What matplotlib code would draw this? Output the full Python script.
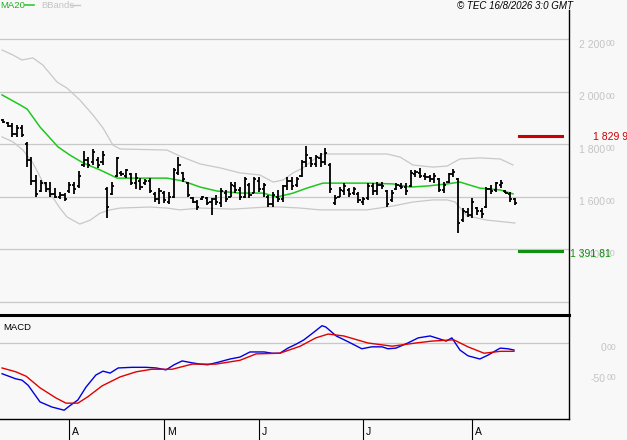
import matplotlib
matplotlib.use("Agg")
import matplotlib.pyplot as plt
from matplotlib.transforms import blended_transform_factory, offset_copy
from matplotlib.lines import Line2D

plt.rcParams['font.family'] = ['Liberation Sans', 'DejaVu Sans']

# ---------------- data ----------------
highs = [1895,1884,1880,1872,1872,1808,1750,1682,1663,1655,
         1655,1632,1617,1613,1655,1655,1697,1773,1750,1781,
         1750,1773,1636,1655,1750,1697,1705,1690,1690,1670,
         1667,1670,1617,1632,1621,1617,1709,1750,1693,1655,
         1598,1587,1602,1598,1594,1606,1632,1625,1655,1655,
         1636,1674,1651,1674,1674,1651,1606,1617,1625,1644,
         1674,1674,1674,1739,1792,1750,1758,1766,1785,1728,
         1606,1636,1651,1632,1636,1617,1598,1651,1651,1655,
         1655,1625,1625,1651,1651,1651,1701,1701,1709,1690,
         1682,1690,1670,1655,1690,1705,1670,1556,1556,1594,
         1560,1556,1636,1644,1655,1663,1625,1617,1594]
lows = [1880,1865,1827,1827,1827,1712,1644,1598,1617,1617,
        1598,1594,1590,1583,1613,1609,1632,1712,1709,1720,
        1709,1720,1518,1606,1674,1678,1670,1644,1629,1625,
        1644,1613,1579,1571,1575,1571,1594,1682,1655,1598,
        1575,1549,1587,1568,1530,1568,1560,1579,1598,1613,
        1587,1594,1594,1613,1617,1598,1560,1560,1579,1579,
        1625,1625,1636,1674,1712,1712,1712,1712,1720,1613,
        1568,1598,1606,1598,1606,1575,1568,1587,1606,1606,
        1629,1560,1579,1625,1629,1606,1636,1674,1670,1663,
        1655,1651,1617,1613,1651,1674,1461,1503,1522,1518,
        1530,1518,1556,1610,1617,1632,1613,1579,1568]
opens = [1890,1880,1870,1840,1860,1800,1740,1660,1620,1650,
         1630,1610,1600,1605,1620,1645,1640,1720,1740,1730,
         1740,1730,1630,1610,1680,1690,1680,1685,1650,1660,
         1650,1660,1610,1590,1615,1580,1600,1690,1690,1650,
         1595,1580,1590,1595,1580,1590,1575,1615,1600,1640,
         1625,1600,1645,1615,1660,1630,1600,1570,1600,1590,
         1640,1660,1645,1680,1730,1745,1725,1745,1730,1720,
         1575,1600,1620,1625,1615,1610,1580,1595,1640,1620,
         1645,1620,1585,1630,1640,1635,1640,1685,1690,1680,
         1675,1665,1665,1625,1655,1685,1665,1510,1540,1530,
         1555,1545,1560,1630,1625,1645,1620,1610,1590]
closes = [1885,1870,1840,1860,1835,1740,1660,1610,1650,1630,
          1610,1600,1605,1590,1645,1630,1680,1740,1720,1770,
          1720,1760,1560,1640,1745,1685,1700,1650,1670,1635,
          1660,1620,1590,1620,1585,1600,1700,1720,1665,1605,
          1580,1560,1598,1575,1590,1580,1620,1590,1645,1625,
          1600,1665,1605,1665,1630,1645,1570,1605,1590,1640,
          1660,1640,1665,1730,1760,1725,1750,1730,1765,1630,
          1595,1625,1640,1610,1630,1585,1590,1640,1620,1645,
          1640,1570,1615,1645,1635,1620,1690,1695,1680,1675,
          1665,1680,1625,1645,1685,1695,1500,1545,1530,1580,
          1545,1535,1630,1620,1650,1650,1615,1590,1575]

ma_x = [-0.2,3.6,5.1,7.8,11.6,14.1,16.9,20.5,24.1,27.4,34.6,38.0,41.6,45.1,50.0,
        54.9,57.8,61.2,64.1,67.5,76.8,82.3,85.9,89.5,93.7,96.4,100.6,104.9,107.6]
ma_v = [1987,1949,1933,1865,1789,1758,1728,1701,1670,1670,1670,1659,1636,1621,1613,
        1613,1598,1613,1632,1651,1651,1648,1636,1640,1648,1655,1632,1625,1610]

bb_up_x = [-0.2,2.1,4.0,6.3,8.4,11.4,13.5,16.2,19.0,21.1,23.2,24.7,34.6,37.3,41.6,
           45.8,50.0,54.2,57.0,59.1,61.2,63.3,65.4,67.5,81.0,83.8,86.5,90.7,93.7,
           96.4,100.6,104.9,107.6]
bb_up_v = [2158,2139,2120,2128,2101,2036,2013,1968,1910,1861,1796,1781,1777,1754,1724,
           1709,1690,1682,1655,1663,1690,1709,1739,1762,1762,1750,1720,1712,1716,
           1743,1747,1743,1720]

bb_lo_x = [-0.2,2.1,4.2,6.3,8.4,9.9,12.0,13.5,16.2,18.4,20.5,22.6,24.7,31.0,34.6,
           37.3,41.6,48.5,55.7,58.4,62.7,66.9,76.8,82.3,86.5,90.7,93.7,95.4,97.9,
           102.1,108.0]
bb_lo_v = [1827,1808,1777,1728,1655,1613,1556,1522,1495,1510,1537,1549,1556,1560,1556,
           1549,1556,1552,1560,1560,1556,1549,1549,1564,1579,1587,1587,1579,1526,
           1510,1499]

macd_x = [-0.2,2.7,4.0,5.3,7.8,10.3,12.9,14.1,15.8,17.5,19.6,21.1,22.6,24.3,27.2,
          30.2,32.3,34.4,36.1,37.8,39.9,41.6,43.2,45.4,47.9,50.0,52.1,55.1,56.8,58.4,
          60.1,61.8,63.5,65.6,67.3,68.1,70.3,72.8,75.7,77.8,80.0,81.2,82.9,85.4,87.6,
          90.1,91.4,93.5,94.7,96.4,98.1,100.6,102.3,104.9,106.5,107.8]
macd_v = [-48,-56,-58,-66,-92,-100,-105,-98,-89,-69,-50,-44,-47,-39,-38,
          -38,-39,-42,-34,-28,-31,-33,-34,-30,-25,-22,-14,-14,-16,-16,
          -8,-2,5,17,27,25,11,2,-9,-6,-6,-9,-8,0,8,
          11,8,3,8,-11,-20,-25,-19,-8,-9,-11]
sig_x = [-0.2,2.7,4.9,7.8,11.2,13.3,15.8,17.9,20.9,24.7,28.1,31.4,35.7,39.9,44.9,
         50.0,53.4,58.4,62.7,66.0,68.6,71.9,77.0,82.1,87.1,90.5,95.1,98.1,101.5,104.9,107.8]
sig_v = [-39,-45,-52,-70,-86,-94,-94,-84,-67,-53,-45,-41,-41,-33,-33,
         -27,-17,-16,-5,8,14,11,0,-5,0,3,5,-6,-16,-13,-13]

price_ticks = [1200, 1400, 1600, 1800, 2000, 2200]
price_labels = ["2 200", "2 000", "1 800", "1 600", "1 400"]
price_label_vals = [2200, 2000, 1800, 1600, 1400]
macd_label_vals = [0, -50]
macd_labels = ["0", "-50"]
month_idx = [14, 34, 54, 76, 99]
month_labels = ["A", "M", "J", "J", "A"]
resistance = 1829.9
support = 1391.81
resistance_label = "1 829 93"
support_label = "1 391 81"

# ---------------- figure ----------------
W, H = 627, 440
BG = '#F8F8F8'
GRID = '#C8C8C8'
fig = plt.figure(figsize=(W / 100, H / 100), dpi=100, facecolor=BG)

def fx(px):
    return px / W

def fy(py):
    return 1 - py / H

ax1 = fig.add_axes([0, fy(315), fx(569), (315 - 10) / H], facecolor=BG)
ax2 = fig.add_axes([0, fy(419), fx(569), (419 - 315) / H], facecolor=BG)

xlim = (-0.633, 119.41)
for ax in (ax1, ax2):
    ax.set_xlim(*xlim)
    ax.tick_params(left=False, right=False, labelleft=False, labelright=False,
                   labelbottom=False)
    ax.spines['left'].set_visible(False)

ax1.set_ylim(1148.6, 2310.5)
ax2.set_ylim(-118.75, 43.75)

# price panel spines
ax1.spines['top'].set_visible(False)
ax1.spines['bottom'].set_visible(False)
ax1.spines['right'].set_linewidth(1.0)
ax1.tick_params(bottom=False)
ax1.set_yticks(price_ticks)
ax1.grid(axis='y', color=GRID, lw=0.9)
ax1.set_axisbelow(True)

# macd panel spines
ax2.spines['top'].set_linewidth(2.2)
ax2.spines['right'].set_linewidth(1.0)
ax2.spines['bottom'].set_linewidth(1.0)
ax2.set_yticks([0])
ax2.grid(axis='y', color=GRID, lw=0.9)
ax2.set_axisbelow(True)
ax2.set_xticks(month_idx)
ax2.tick_params(axis='x', direction='out', length=15, width=0.8, color='black')

# Bollinger bands and MA
ax1.plot(bb_up_x, bb_up_v, color='#C8C8C8', lw=0.9)
ax1.plot(bb_lo_x, bb_lo_v, color='#C8C8C8', lw=0.9)
ax1.plot(ma_x, ma_v, color='#1EC81E', lw=1.1)

# OHLC bars
xs = list(range(len(highs)))
ax1.vlines(xs, lows, highs, color='black', lw=1.3)
ax1.hlines(opens, [x - 0.45 for x in xs], xs, color='black', lw=1.3)
ax1.hlines(closes, xs, [x + 0.45 for x in xs], color='black', lw=1.3)

# support / resistance
ax1.axhline(resistance, xmin=519 / 569, xmax=562 / 569, color='#CC0000', lw=2.2)
ax1.axhline(support, xmin=519 / 569, xmax=562 / 569, color='#109010', lw=2.2)

# price labels
tr1 = offset_copy(blended_transform_factory(fig.transFigure, ax1.transData),
                  fig=fig, x=0, y=-5.5, units='dots')
tr1s = offset_copy(blended_transform_factory(fig.transFigure, ax1.transData),
                   fig=fig, x=0, y=-4.5, units='dots')
for v, s in zip(price_label_vals, price_labels):
    fig.text(fx(605), v, s, transform=tr1, ha='right', va='center',
             fontsize=7.5, color='#C4C4C4')
    fig.text(fx(606), v, "00", transform=tr1s, ha='left', va='center',
             fontsize=6.2, color='#C4C4C4')

tr_lab = offset_copy(blended_transform_factory(fig.transFigure, ax1.transData),
                     fig=fig, x=0, y=-1, units='dots')
fig.text(fx(593), resistance, resistance_label, transform=tr_lab, ha='left',
         va='center', fontsize=7.5, color='#CC0000')
tr_lab2 = offset_copy(blended_transform_factory(fig.transFigure, ax1.transData),
                      fig=fig, x=0, y=-3, units='dots')
fig.text(fx(570), support, support_label, transform=tr_lab2, ha='left',
         va='center', fontsize=7.5, color='#109010')

# MACD lines
ax2.plot(macd_x, macd_v, color='#0000E0', lw=1.0)
ax2.plot(sig_x, sig_v, color='#E00000', lw=1.0)

tr2 = offset_copy(blended_transform_factory(fig.transFigure, ax2.transData),
                  fig=fig, x=0, y=-5, units='dots')
tr2s = offset_copy(blended_transform_factory(fig.transFigure, ax2.transData),
                   fig=fig, x=0, y=-4, units='dots')
for v, s in zip(macd_label_vals, macd_labels):
    mv = v if v == 0 else v + 2.0
    fig.text(fx(606), mv, s, transform=tr2, ha='right', va='center',
             fontsize=7.5, color='#C4C4C4')
    fig.text(fx(607), mv, "00", transform=tr2s, ha='left', va='center',
             fontsize=6.2, color='#C4C4C4')

ax2.text(0.005, (419 - 327) / 104, "MACD", transform=ax2.transAxes,
         ha='left', va='center', fontsize=6.8, color='black')

# month labels
trm = offset_copy(ax2.get_xaxis_transform(), fig=fig, x=3, y=0, units='dots')
for m, s in zip(month_idx, month_labels):
    ax2.text(m, -13 / 104, s, transform=trm, ha='left', va='center',
             fontsize=7.5, color='black', clip_on=False)

# legend / header
fig.text(fx(0), fy(6), "MA20", ha='left', va='center', fontsize=6.8,
         color='#1EB41E')
fig.add_artist(Line2D([fx(25), fx(34)], [fy(5), fy(5)], color='#1EC81E', lw=1.1))
fig.text(fx(41), fy(6), "BBands", ha='left', va='center', fontsize=6.8,
         color='#C4C4C4')
fig.add_artist(Line2D([fx(70), fx(80)], [fy(5), fy(5)], color='#C8C8C8', lw=1.0))
fig.text(fx(573), fy(6), "© TEC 16/8/2026 3:0 GMT", ha='right', va='center',
         fontsize=7, style='italic', color='black')

fig.savefig("out.png", dpi=100, facecolor=BG)
